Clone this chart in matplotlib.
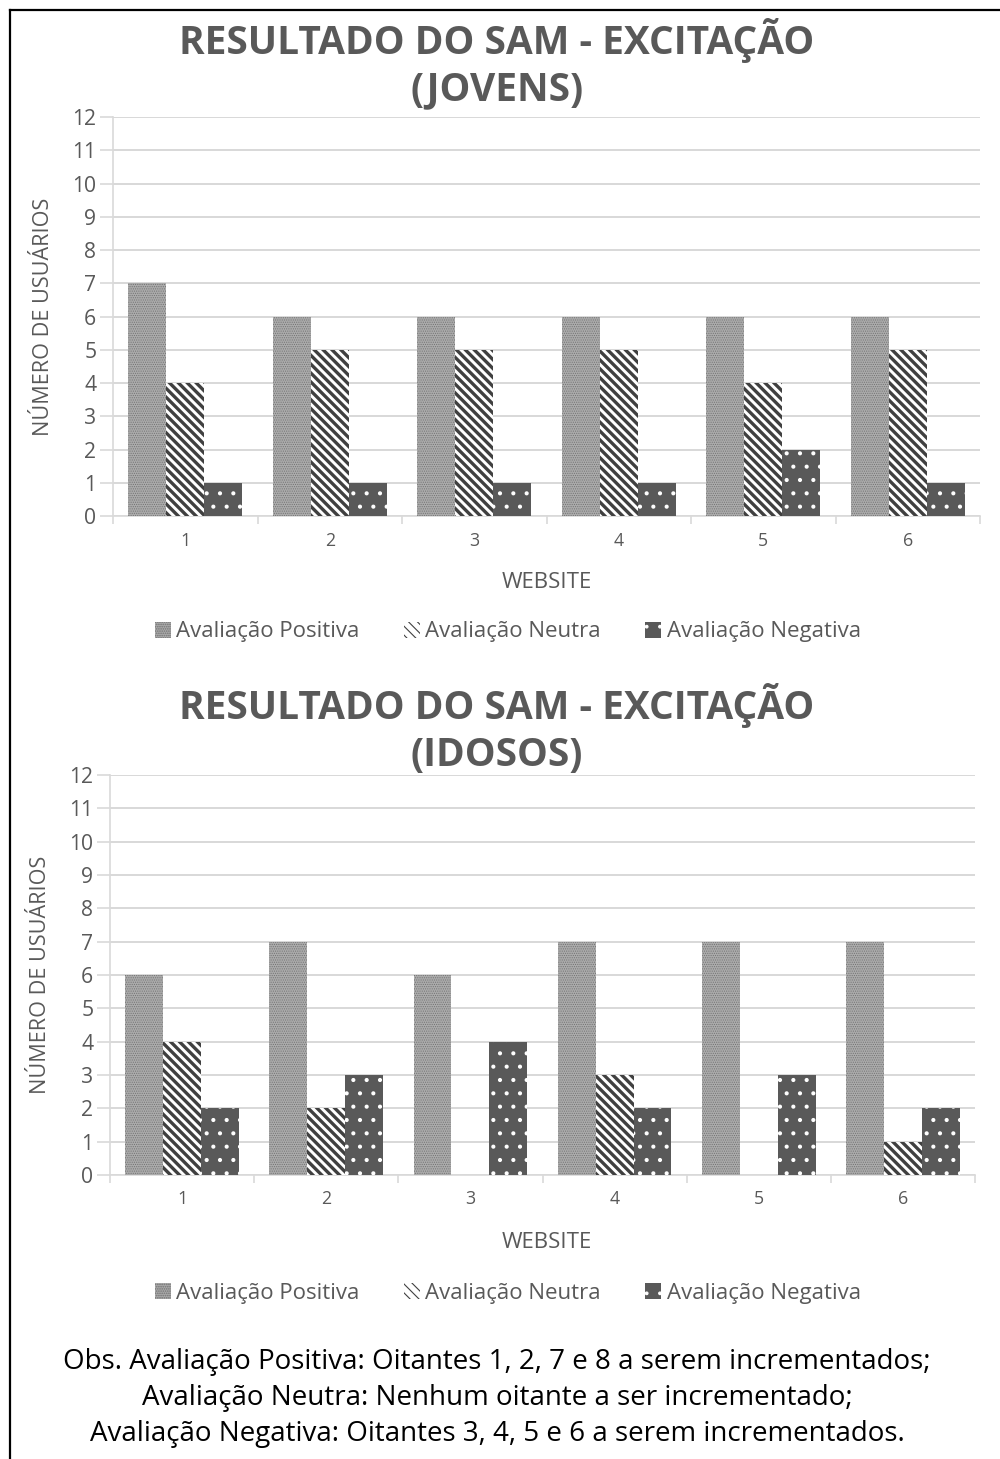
import numpy as np
import matplotlib.pyplot as plt
from matplotlib.lines import Line2D

plt.rcParams['font.family'] = ['Open Sans', 'DejaVu Sans']
plt.rcParams['hatch.linewidth'] = 1.0

websites = [1, 2, 3, 4, 5, 6]
series = ['Avaliação Positiva', 'Avaliação Neutra', 'Avaliação Negativa']

jovens_pos = [7, 6, 6, 6, 6, 6]
jovens_neu = [4, 5, 5, 5, 4, 5]
jovens_neg = [1, 1, 1, 1, 2, 1]

idosos_pos = [6, 7, 6, 7, 7, 7]
idosos_neu = [4, 2, 0, 3, 0, 1]
idosos_neg = [2, 3, 4, 2, 3, 2]

obs_lines = ['Obs. Avaliação Positiva: Oitantes 1, 2, 7 e 8 a serem incrementados;',
             'Avaliação Neutra: Nenhum oitante a ser incrementado;',
             'Avaliação Negativa: Oitantes 3, 4, 5 e 6 a serem incrementados.']

grey = '#595959'
light = '#d9d9d9'
styles = [dict(facecolor='#ababab', edgecolor='#707070', hatch='......'),
          dict(facecolor='white', edgecolor='#404040', hatch='\\\\\\'),
          dict(facecolor='#595959', edgecolor='white', hatch='.')]
hatch_lw = [0.6, 3.0, 1.3]

fig = plt.figure(figsize=(12.5, 18.2375), dpi=80)


def draw_panel(rect, values, title, title_y, xlab_y, leg_y):
    ax = fig.add_axes(rect)
    x = np.array(websites)
    w = 0.263
    for k, (vals, st) in enumerate(zip(values, styles)):
        with plt.rc_context({'hatch.linewidth': hatch_lw[k]}):
            bars = ax.bar(x + (k - 1) * w, vals, w, linewidth=0, label=series[k],
                          zorder=3, **st)
        for b in bars:
            if hasattr(b, 'set_hatch_linewidth'):
                b.set_hatch_linewidth(hatch_lw[k])
    ax.set_xlim(0.5, 6.5)
    ax.set_ylim(0, 12)
    ax.set_yticks(range(0, 13))
    ax.set_xticks(websites)
    ax.set_xticks(np.arange(0.5, 7, 1), minor=True)
    ax.tick_params(axis='x', which='major', length=0, pad=14, labelsize=16, labelcolor=grey)
    ax.tick_params(axis='x', which='minor', length=7, color=light, width=1.5)
    ax.tick_params(axis='y', length=12, color=light, width=1.5, labelsize=19, labelcolor=grey, pad=3)
    ax.grid(axis='y', color=light, linewidth=1.8, zorder=0)
    for s in ['top', 'right']:
        ax.spines[s].set_visible(False)
    for s in ['left', 'bottom']:
        ax.spines[s].set_color(light)
        ax.spines[s].set_linewidth(1.5)
    ax.set_ylabel('NÚMERO DE USUÁRIOS', fontsize=19.5, color=grey)
    ax.yaxis.set_label_coords(-0.068, 0.5)
    fig.text(0.497, title_y, title, ha='center', va='center', fontsize=35,
             fontweight='bold', color=grey, linespacing=1.25)
    fig.text(0.547, xlab_y, 'WEBSITE', ha='center', va='center', fontsize=20, color=grey)
    h, l = ax.get_legend_handles_labels()
    fig.legend(h, l, loc='center', bbox_to_anchor=(0.508, leg_y), ncol=3, frameon=False,
               fontsize=20, labelcolor=grey, handlelength=0.7, handleheight=0.7,
               handletextpad=0.25, columnspacing=2.0)
    return ax


draw_panel([0.113, 0.6463, 0.867, 0.2735], [jovens_pos, jovens_neu, jovens_neg],
           'RESULTADO DO SAM - EXCITAÇÃO\n(JOVENS)', 1 - 64 / 1459, 1 - 582 / 1459, 1 - 632 / 1459)
draw_panel([0.110, 0.1947, 0.865, 0.2742], [idosos_pos, idosos_neu, idosos_neg],
           'RESULTADO DO SAM - EXCITAÇÃO\n(IDOSOS)', 1 - 729 / 1459, 1 - 1242 / 1459, 1 - 1293 / 1459)

for i, line in enumerate(obs_lines):
    fig.text(0.497, 1 - (1362 + 36 * i) / 1459, line, ha='center', va='center',
             fontsize=25, color='black')

# frame lines on the top and left edges
fig.add_artist(Line2D([0.010, 1.0], [1 - 10 / 1459] * 2, color='black', linewidth=2))
fig.add_artist(Line2D([0.010, 0.010], [0, 1 - 10 / 1459], color='black', linewidth=2))

fig.savefig('out.png', dpi=80, facecolor='white')
